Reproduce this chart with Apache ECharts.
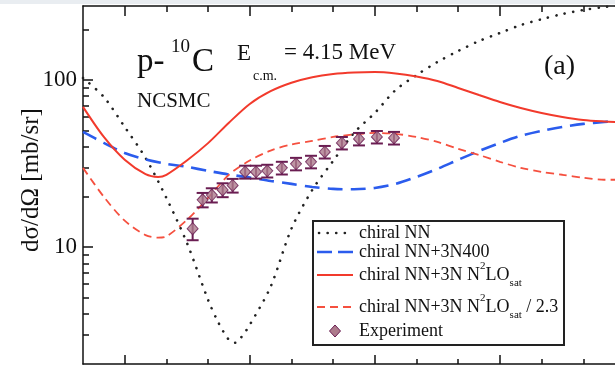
<!DOCTYPE html>
<html>
<head>
<meta charset="utf-8">
<script src="https://cdn.jsdelivr.net/npm/echarts@6/dist/echarts.min.js"></script>
<style>
html, body { margin: 0; padding: 0; background: #fff; }
#chart { width: 615px; height: 365px; }
</style>
</head>
<body>
<div id="chart"></div>
<script>
// scattering angle (deg, c.m.) and cross sections [mb/sr]
const angNN = [20, 25, 30, 35, 40, 45, 50, 52.5, 55, 56.5, 58, 60, 65, 70, 75, 80, 85, 90, 95, 100, 105, 110, 115, 120, 125, 130, 135, 140, 145, 148];
const chiralNN = [102.8, 79.1, 52.4, 34.2, 19.7, 10.5, 4.84, 3.53, 2.79, 2.68, 2.9, 3.43, 5.79, 12.9, 22.0, 32.8, 48.2, 63.5, 87.1, 107, 128, 149, 171, 191, 213, 231, 248, 262, 273, 277];

const ang400 = [20, 25, 30, 35, 40, 45, 50, 55, 60, 65, 70, 75, 80, 85, 90, 95, 100, 105, 110, 115, 120, 125, 130, 135, 140, 145, 148];
const chiral3N400 = [48.9, 42.0, 36.6, 33.5, 31.5, 30.2, 28.6, 27.2, 26.1, 24.9, 23.9, 22.9, 22.3, 22.2, 22.6, 23.9, 26.3, 29.4, 33.3, 37.6, 42.0, 46.3, 49.6, 52.4, 54.6, 56.1, 56.9];

const angSat = [20, 25, 30, 35, 38, 40, 45, 50, 55, 60, 65, 70, 75, 80, 85, 90, 95, 100, 105, 110, 115, 120, 125, 130, 135, 140, 145, 148];
const chiralSat = [69.0, 45.6, 33.3, 27.3, 26.3, 27.1, 33.1, 41.9, 55.5, 71.9, 85.7, 96.3, 103.9, 108.6, 110.9, 111.6, 109.4, 104.9, 98.6, 89.6, 81.3, 73.9, 68.0, 63.5, 60.1, 57.7, 56.5, 56.1];
const chiralSatScaled = [29.8, 20.0, 14.4, 11.8, 11.4, 11.6, 14.6, 19.7, 27.1, 33.0, 37.8, 41.1, 43.2, 45.6, 47.2, 48.2, 47.6, 45.6, 42.6, 38.7, 35.6, 32.4, 29.8, 28.2, 27.1, 26.0, 25.3, 25.3];

const expAng = [46.3, 48.7, 50.9, 53.5, 55.9, 58.9, 61.5, 64.2, 67.7, 71.1, 74.7, 78.0, 82.1, 86.2, 90.5, 94.6];
const expVal = [12.9, 19.2, 20.5, 22.0, 23.4, 28.2, 28.2, 28.6, 29.8, 31.5, 32.4, 37.1, 42.0, 44.4, 45.6, 45.0];
const expErr = [1.9, 1.9, 2.0, 2.1, 2.2, 2.5, 2.5, 2.5, 2.6, 2.7, 2.8, 3.2, 3.6, 3.8, 3.9, 3.9];

const yLabels = [10, 100];
const yMinor = [3, 4, 5, 6, 7, 8, 9, 20, 30, 40, 50, 60, 70, 80, 90, 200];
const xMajor = [30, 60, 90, 120, 150];
const xMinor = [40, 50, 70, 80, 100, 110, 130, 140, 160, 170];

const serif = 'Liberation Serif, DejaVu Serif, serif';
const ink = '#111';
const cRed = '#f23a2c';
const cRed2 = '#f5503f';
const cBlue = '#2b5ced';
const cDot = '#222';
const cExp = '#6a1d52';

const zip = (a, b) => a.map((x, i) => [x, b[i]]);

const chart = echarts.init(document.getElementById('chart'));

function xAx(pos, ticks, len, line) {
    return {
        type: 'value', position: pos, min: 20, max: 180,
        axisLine: { show: line, onZero: false, lineStyle: { color: ink, width: 1.5 } },
        axisTick: { show: true, inside: true, length: len, customValues: ticks, lineStyle: { color: ink, width: 1.5 } },
        axisLabel: { show: false },
        splitLine: { show: false }
    };
}

const supSub = {
    sup: { fontSize: 11, fontFamily: serif, lineHeight: 11, verticalAlign: 'top', fill: ink },
    sub: { fontSize: 11, fontFamily: serif, lineHeight: 11, verticalAlign: 'bottom', fill: ink }
};

const option = {
    animation: false,
    grid: { left: 83, top: 6, width: 667, height: 358, containLabel: false, outerBoundsMode: 'none' },
    xAxis: [
        xAx('bottom', xMajor, 9, true),
        xAx('bottom', xMinor, 5, false),
        xAx('top', xMajor, 10, true),
        xAx('top', xMinor, 6, false)
    ],
    yAxis: [
        {
            type: 'log', min: 2, max: 277, position: 'left',
            axisLine: { show: true, onZero: false, lineStyle: { color: ink, width: 1.5 } },
            axisTick: { show: true, inside: true, length: 10, customValues: yLabels, lineStyle: { color: ink, width: 1.5 } },
            axisLabel: { show: true, customValues: yLabels, margin: 6, color: ink, fontSize: 23, fontFamily: serif },
            splitLine: { show: false }
        },
        {
            type: 'log', min: 2, max: 277, position: 'left',
            axisLine: { show: false },
            axisTick: { show: true, inside: true, length: 6, customValues: yMinor, lineStyle: { color: ink, width: 1.5 } },
            axisLabel: { show: false },
            splitLine: { show: false }
        }
    ],
    series: [
        {
            name: 'chiral NN', type: 'line', data: zip(angNN, chiralNN), smooth: 0.3,
            showSymbol: false, color: cDot,
            lineStyle: { color: cDot, width: 2.6, type: [0.1, 8.5], cap: 'round' }
        },
        {
            name: 'chiral NN+3N400', type: 'line', data: zip(ang400, chiral3N400), smooth: 0.3,
            showSymbol: false, color: cBlue,
            lineStyle: { color: cBlue, width: 2.6, type: [15, 8] }
        },
        {
            name: 'chiral NN+3N N2LOsat', type: 'line', data: zip(angSat, chiralSat), smooth: 0.3,
            showSymbol: false, color: cRed,
            lineStyle: { color: cRed, width: 2 }
        },
        {
            name: 'chiral NN+3N N2LOsat / 2.3', type: 'line', data: zip(angSat, chiralSatScaled), smooth: 0.3,
            showSymbol: false, color: cRed2,
            lineStyle: { color: cRed2, width: 1.8, type: [8, 5] }
        },
        {
            name: 'err', type: 'custom',
            data: expAng.map((a, i) => [a, expVal[i] - expErr[i], expVal[i] + expErr[i]]),
            encode: { x: 0, y: [1, 2] },
            renderItem: function (params, api) {
                const lo = api.coord([api.value(0), api.value(1)]);
                const hi = api.coord([api.value(0), api.value(2)]);
                const w = 6;
                const st = { stroke: cExp, lineWidth: 2 };
                return {
                    type: 'group',
                    children: [
                        { type: 'line', shape: { x1: lo[0], y1: lo[1], x2: hi[0], y2: hi[1] }, style: st },
                        { type: 'line', shape: { x1: lo[0] - w, y1: lo[1], x2: lo[0] + w, y2: lo[1] }, style: st },
                        { type: 'line', shape: { x1: hi[0] - w, y1: hi[1], x2: hi[0] + w, y2: hi[1] }, style: st }
                    ]
                };
            },
            z: 5
        },
        {
            name: 'Experiment', type: 'scatter', data: zip(expAng, expVal),
            symbol: 'diamond', symbolSize: [11, 12],
            itemStyle: { color: '#ad7b8c', borderColor: cExp, borderWidth: 1 },
            z: 6
        }
    ],
    graphic: [
        { type: 'rect', shape: { x: 0, y: 0, width: 615, height: 4 }, style: { fill: '#e9edf1' }, z: 100 },
        // axis title
        {
            type: 'text', x: 31, y: 180, rotation: Math.PI / 2,
            style: { text: 'dσ/dΩ [mb/sr]', fill: ink, font: '25px ' + serif, align: 'center', verticalAlign: 'middle' }
        },
        // header texts
        { type: 'text', x: 137, y: 62, style: { text: 'p-', fill: ink, font: '33px ' + serif, verticalAlign: 'middle' } },
        { type: 'text', x: 171, y: 47, style: { text: '10', fill: ink, font: '19px ' + serif, verticalAlign: 'middle' } },
        { type: 'text', x: 192, y: 62, style: { text: 'C', fill: ink, font: '33px ' + serif, verticalAlign: 'middle' } },
        { type: 'text', x: 237, y: 54, style: { text: 'E', fill: ink, font: '23px ' + serif, verticalAlign: 'middle' } },
        { type: 'text', x: 253, y: 76, style: { text: 'c.m.', fill: ink, font: '14px ' + serif, verticalAlign: 'middle' } },
        { type: 'text', x: 284, y: 53, style: { text: '= 4.15 MeV', fill: ink, font: '23px ' + serif, verticalAlign: 'middle' } },
        { type: 'text', x: 137, y: 101, style: { text: 'NCSMC', fill: ink, font: '21px ' + serif, verticalAlign: 'middle' } },
        { type: 'text', x: 544, y: 67, style: { text: '(a)', fill: ink, font: '28px ' + serif, verticalAlign: 'middle' } },
        // legend
        {
            type: 'rect', shape: { x: 313, y: 221, width: 251, height: 124 },
            style: { fill: '#fff', stroke: '#222', lineWidth: 2 }, z: 50
        },
        {
            type: 'line', shape: { x1: 319, y1: 233, x2: 353, y2: 233 }, z: 51,
            style: { stroke: cDot, lineWidth: 2.6, lineDash: [0.1, 8.5], lineCap: 'round' }
        },
        {
            type: 'line', shape: { x1: 317, y1: 252, x2: 353, y2: 252 }, z: 51,
            style: { stroke: cBlue, lineWidth: 2.6, lineDash: [15, 6] }
        },
        {
            type: 'line', shape: { x1: 317, y1: 275, x2: 353, y2: 275 }, z: 51,
            style: { stroke: cRed, lineWidth: 2 }
        },
        {
            type: 'line', shape: { x1: 317, y1: 307, x2: 353, y2: 307 }, z: 51,
            style: { stroke: cRed2, lineWidth: 1.8, lineDash: [8, 5] }
        },
        {
            type: 'polygon', shape: { points: [[335, 325], [340.5, 331], [335, 337], [329.5, 331]] }, z: 51,
            style: { fill: '#ad7b8c', stroke: cExp, lineWidth: 1 }
        },
        { type: 'text', x: 359, y: 233, z: 51, style: { text: 'chiral NN', fill: ink, font: '18px ' + serif, verticalAlign: 'middle' } },
        { type: 'text', x: 359, y: 252, z: 51, style: { text: 'chiral NN+3N400', fill: ink, font: '18px ' + serif, verticalAlign: 'middle' } },
        {
            type: 'text', x: 359, y: 275, z: 51,
            style: {
                text: 'chiral NN+3N N{sup|2}LO{sub|sat}', fill: ink, font: '18px ' + serif,
                lineHeight: 28, verticalAlign: 'middle', rich: supSub
            }
        },
        {
            type: 'text', x: 359, y: 307, z: 51,
            style: {
                text: 'chiral NN+3N N{sup|2}LO{sub|sat} / 2.3', fill: ink, font: '18px ' + serif,
                lineHeight: 28, verticalAlign: 'middle', rich: supSub
            }
        },
        { type: 'text', x: 359, y: 331, z: 51, style: { text: 'Experiment', fill: ink, font: '18px ' + serif, verticalAlign: 'middle' } }
    ]
};

chart.setOption(option);

window.addEventListener('resize', _ => {
    chart.resize();
});
</script>
</body>
</html>
